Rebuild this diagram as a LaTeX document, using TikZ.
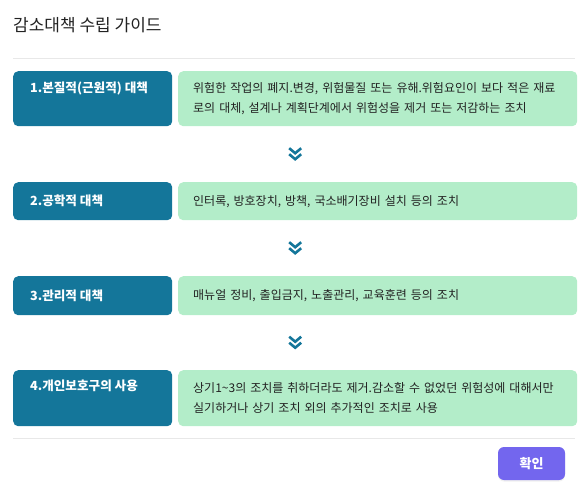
\documentclass[tikz,border=0pt]{standalone}
\usepackage{fontspec}
\setmainfont{Noto Sans CJK KR}
\usetikzlibrary{positioning,calc,shadows}

\definecolor{stepblue}{HTML}{14769A}
\definecolor{descgreen}{HTML}{B3EDC9}
\definecolor{okviolet}{HTML}{7366EE}
\definecolor{rulegray}{HTML}{E8E8E8}
\definecolor{inkdark}{HTML}{222222}

\tikzset{
  stepbox/.style={fill=stepblue, rounded corners=5pt, anchor=north west, inner sep=0pt, minimum width=159pt},
  steplabel/.style={anchor=west, inner sep=0pt, text=white, font=\bfseries\fontsize{12.6}{15}\selectfont},
  descbox/.style={fill=descgreen, rounded corners=5pt, anchor=north west, inner xsep=15pt, inner ysep=0pt,
    text width=369pt, align=left, text=inkdark, font=\fontsize{12}{19.5}\selectfont},
  chevron/.style={draw=stepblue, line width=2.6pt, line join=miter},
  rule/.style={draw=rulegray, line width=0.8pt},
}

\begin{document}
\begin{tikzpicture}[x=1pt,y=-1pt]
\useasboundingbox (0,0) rectangle (588,500);

\node [anchor=west, inner sep=0pt, text=inkdark, font=\fontsize{17}{20}\selectfont] (title) at (13,25) {감소대책 수립 가이드};
\draw [rule] (13,58) -- (575,58);

% steps
\node [stepbox, minimum height=55pt] (s1) at (13,71) {};
\node [descbox, minimum height=55pt] (d1) at (178,71) {위험한 작업의 폐지.변경, 위험물질 또는 유해.위험요인이 보다 적은 재료\\로의 대체, 설계나 계획단계에서 위험성을 제거 또는 저감하는 조치};
\node [steplabel] (l1) at ([shift={(17,17)}]s1.north west) {1.본질적(근원적) 대책};

\node [stepbox, minimum height=38pt] (s2) at (13,182) {};
\node [descbox, minimum height=38pt] (d2) at (178,182) {인터록, 방호장치, 방책, 국소배기장비 설치 등의 조치};
\node [steplabel] (l2) at ([shift={(17,19)}]s2.north west) {2.공학적 대책};

\node [stepbox, minimum height=39pt] (s3) at (13,276) {};
\node [descbox, minimum height=39pt] (d3) at (178,276) {매뉴얼 정비, 출입금지, 노출관리, 교육훈련 등의 조치};
\node [steplabel] (l3) at ([shift={(17,19.5)}]s3.north west) {3.관리적 대책};

\node [stepbox, minimum height=56pt] (s4) at (13,370) {};
\node [descbox, minimum height=56pt] (d4) at (178,370) {상기1\textasciitilde3의 조치를 취하더라도 제거.감소할 수 없었던 위험성에 대해서만\\실기하거나 상기 조치 외의 추가적인 조치로 사용};
\node [steplabel] (l4) at ([shift={(17,16)}]s4.north west) {4.개인보호구의 사용};

% chevrons between steps
\foreach \a/\b in {1/2,2/3,3/4}{
  \coordinate (c\a) at ($(s\a.south west)!0.5!(d\b.north east)$);
  \draw [chevron] ($(c\a)+(-6,-6)$) -- ++(6,5) -- ++(6,-5);
  \draw [chevron] ($(c\a)+(-6,0)$) -- ++(6,5) -- ++(6,-5);
}

\draw [rule] (13,438) -- (575,438);
\node [fill=okviolet, rounded corners=6pt, minimum width=67pt, minimum height=33pt, text=white,
  font=\bfseries\fontsize{13}{15}\selectfont, drop shadow={opacity=0.12, shadow xshift=0pt, shadow yshift=-1.5pt}] (ok) at (531.5,463.5) {확인};
\end{tikzpicture}
\end{document}
